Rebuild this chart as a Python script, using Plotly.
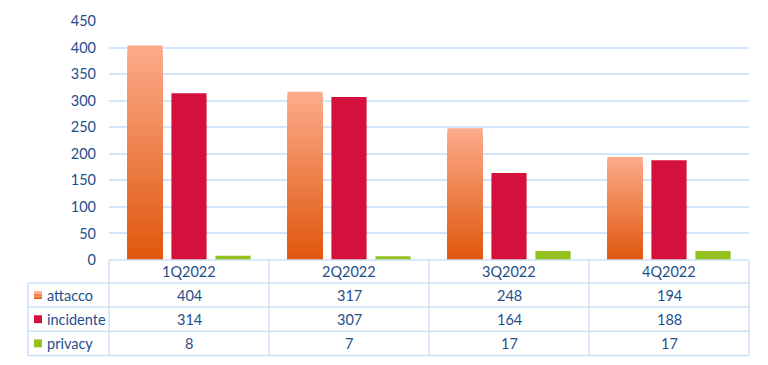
import plotly.graph_objects as go

# ---- data ----
categories = ["1Q2022", "2Q2022", "3Q2022", "4Q2022"]
attacco = [404, 317, 248, 194]
incidente = [314, 307, 164, 188]
privacy = [8, 7, 17, 17]
series_names = ["attacco", "incidente", "privacy"]
y_ticks = [0, 50, 100, 150, 200, 250, 300, 350, 400, 450]

# ---- styling ----
W, H = 768, 365
L, R, T, B = 109, 19, 18, 105
PW, PH = W - L - R, H - T - B
TXT = "#1F4E8C"
GRID = "#D3E5F8"
LINE = "#CCE0F6"
FONT = "Lato"
PEACH_TOP = (252, 170, 138)
ORANGE_BOT = (224, 88, 14)
CRIMSON = "#D4103C"
GREEN = "#93C01F"


def px_x(px):
    return (px - L) / PW


def px_y(py):
    return (H - B - py) / PH


def mix(c1, c2, t):
    return "rgb(%d,%d,%d)" % tuple(round(a + (b - a) * t) for a, b in zip(c1, c2))


fig = go.Figure()

# gradient attacco bars: overlaid layers in the same offset group
N = 40
for k in range(N):
    frac = (N - k) / N
    fig.add_trace(go.Bar(
        x=categories, y=[v * frac for v in attacco],
        name="attacco", offsetgroup="a", showlegend=False,
        marker=dict(color=mix(PEACH_TOP, ORANGE_BOT, k / (N - 1)), line=dict(width=0)),
        hoverinfo="skip" if k else None,
    ))

fig.add_trace(go.Bar(x=categories, y=incidente, name="incidente", offsetgroup="i",
                     showlegend=False, marker=dict(color=CRIMSON, line=dict(width=0))))
fig.add_trace(go.Bar(x=categories, y=privacy, name="privacy", offsetgroup="p",
                     showlegend=False, marker=dict(color=GREEN, line=dict(width=0))))

annotations = []
shapes = []

# table rows geometry (pixels)
header_top, row_lines = 260, [283.3, 307.7, 332.2, 356.6]
col_left, label_right = 28, 109
col_lines = [109 + 160 * i for i in range(5)]

# header labels
for c in categories:
    annotations.append(dict(x=c, xref="x", y=px_y((header_top + row_lines[0]) / 2), yref="paper",
                            text=c, showarrow=False, font=dict(family=FONT, size=14.5, color=TXT),
                            xanchor="center", yanchor="middle"))

rows = [attacco, incidente, privacy]
for r, (name, vals) in enumerate(zip(series_names, rows)):
    yc = px_y((row_lines[r] + row_lines[r + 1]) / 2)
    for c, v in zip(categories, vals):
        annotations.append(dict(x=c, xref="x", y=yc, yref="paper", text=str(v), showarrow=False,
                                font=dict(family=FONT, size=14.5, color=TXT),
                                xanchor="center", yanchor="middle"))
    annotations.append(dict(x=px_x(45), xref="paper", y=yc, yref="paper", text=name, showarrow=False,
                            font=dict(family=FONT, size=14.5, color=TXT),
                            xanchor="left", yanchor="middle"))
    # legend key squares
    pyc = (row_lines[r] + row_lines[r + 1]) / 2
    if r == 0:
        steps = 6
        for s in range(steps):
            shapes.append(dict(type="rect", xref="paper", yref="paper",
                               x0=px_x(34), x1=px_x(42),
                               y0=px_y(pyc - 4 + 8 * s / steps), y1=px_y(pyc - 4 + 8 * (s + 1) / steps),
                               fillcolor=mix(PEACH_TOP, ORANGE_BOT, s / (steps - 1)), line=dict(width=0)))
    else:
        shapes.append(dict(type="rect", xref="paper", yref="paper",
                           x0=px_x(34), x1=px_x(42), y0=px_y(pyc - 4), y1=px_y(pyc + 4),
                           fillcolor=CRIMSON if r == 1 else GREEN, line=dict(width=0)))

# table grid lines
shapes.append(dict(type="line", xref="paper", yref="paper", x0=px_x(label_right), x1=px_x(col_lines[-1]),
                   y0=px_y(header_top), y1=px_y(header_top), line=dict(color=LINE, width=1.5)))
for yl in row_lines:
    shapes.append(dict(type="line", xref="paper", yref="paper", x0=px_x(col_left), x1=px_x(col_lines[-1]),
                       y0=px_y(yl), y1=px_y(yl), line=dict(color=LINE, width=1.5)))
shapes.append(dict(type="line", xref="paper", yref="paper", x0=px_x(col_left), x1=px_x(col_left),
                   y0=px_y(row_lines[0]), y1=px_y(row_lines[-1]), line=dict(color=LINE, width=1.5)))
for xl in col_lines:
    shapes.append(dict(type="line", xref="paper", yref="paper", x0=px_x(xl), x1=px_x(xl),
                       y0=px_y(header_top), y1=px_y(row_lines[-1]), line=dict(color=LINE, width=1.5)))

fig.update_layout(
    width=W, height=H,
    margin=dict(l=L, r=R, t=T, b=B),
    paper_bgcolor="white", plot_bgcolor="white",
    barmode="group", bargap=0.175, bargroupgap=0.2,
    showlegend=False,
    annotations=annotations, shapes=shapes,
    xaxis=dict(showticklabels=False, showgrid=False, zeroline=False, showline=False,
               range=[-0.5, 3.5], fixedrange=True),
    yaxis=dict(range=[0, 450], tickvals=y_ticks, showgrid=True, gridcolor=GRID, gridwidth=1.5,
               zeroline=False, showline=False, ticks="", ticklabelstandoff=12,
               tickfont=dict(family=FONT, size=14.5, color=TXT), fixedrange=True),
    font=dict(family=FONT, color=TXT),
)

fig.write_html("out.html", config={"displayModeBar": False},
               post_script="document.body.style.margin='0';document.body.style.overflow='hidden';")
